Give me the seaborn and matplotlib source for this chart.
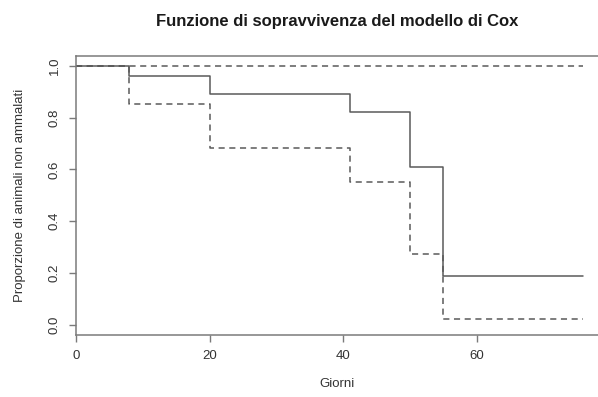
import matplotlib
matplotlib.use("Agg")
import matplotlib.pyplot as plt
import seaborn as sns
import pandas as pd

# Event times (days) and fitted survival for the three curves
giorni = [0, 8, 20, 41, 50, 55, 76]
sopravvivenza = [1.0, 0.96, 0.89, 0.821, 0.609, 0.189, 0.189]
limite_inferiore = [1.0, 0.853, 0.681, 0.552, 0.273, 0.02, 0.02]
limite_superiore = [1.0, 1.0, 1.0, 1.0, 1.0, 1.0, 1.0]

x_ticks = [0, 20, 40, 60]
y_ticks = [0.0, 0.2, 0.4, 0.6, 0.8, 1.0]

curve = pd.concat([
    pd.DataFrame({"Giorni": giorni, "S": sopravvivenza, "curva": "stima"}),
    pd.DataFrame({"Giorni": giorni, "S": limite_inferiore, "curva": "inf"}),
    pd.DataFrame({"Giorni": giorni, "S": limite_superiore, "curva": "sup"}),
], ignore_index=True)

sns.set_theme(style="white")
plt.rcParams["font.family"] = ["Liberation Sans", "DejaVu Sans"]

fig = plt.figure(figsize=(5.98, 3.97), dpi=100)
ax = fig.add_axes([76 / 598, 1 - 335 / 397, 1 - 76 / 598, (335 - 55.5) / 397])

line_col = "#5a5a5a"
sns.lineplot(data=curve, x="Giorni", y="S", hue="curva", style="curva",
             hue_order=["stima", "inf", "sup"], style_order=["stima", "inf", "sup"],
             palette={"stima": line_col, "inf": line_col, "sup": line_col},
             dashes={"stima": "", "inf": (4, 3), "sup": (4, 3)},
             drawstyle="steps-post", estimator=None, sort=False,
             linewidth=1.1, legend=False, ax=ax)

ax.set_xlim(0, 78.2)
ax.set_ylim(-0.04, 1.04)
ax.set_xticks(x_ticks)
ax.set_xticklabels([str(t) for t in x_ticks])
ax.set_yticks(y_ticks)
ax.set_yticklabels([f"{t:.1f}" for t in y_ticks], rotation=90, va="center")

spine_col = "#7a7a7a"
for side in ["left", "bottom", "top"]:
    ax.spines[side].set_visible(True)
    ax.spines[side].set_color(spine_col)
    ax.spines[side].set_linewidth(1.1)
ax.spines["right"].set_visible(False)

ax.tick_params(axis="both", direction="out", length=5, width=1,
               bottom=True, left=True, top=False, right=False,
               color=spine_col, labelcolor="#333333", labelsize=9.5)
ax.tick_params(axis="x", pad=6)
ax.tick_params(axis="y", pad=6)

ax.set_xlabel("Giorni", fontsize=9.5, color="#333333", labelpad=11)
ax.set_ylabel("Proporzione di animali non ammalati", fontsize=9.5,
              color="#333333", labelpad=16)
ax.set_title("Funzione di sopravvivenza del modello di Cox", fontsize=12,
             fontweight="bold", color="#1a1a1a", pad=21)

fig.savefig("out.png", dpi=100, facecolor="white")
